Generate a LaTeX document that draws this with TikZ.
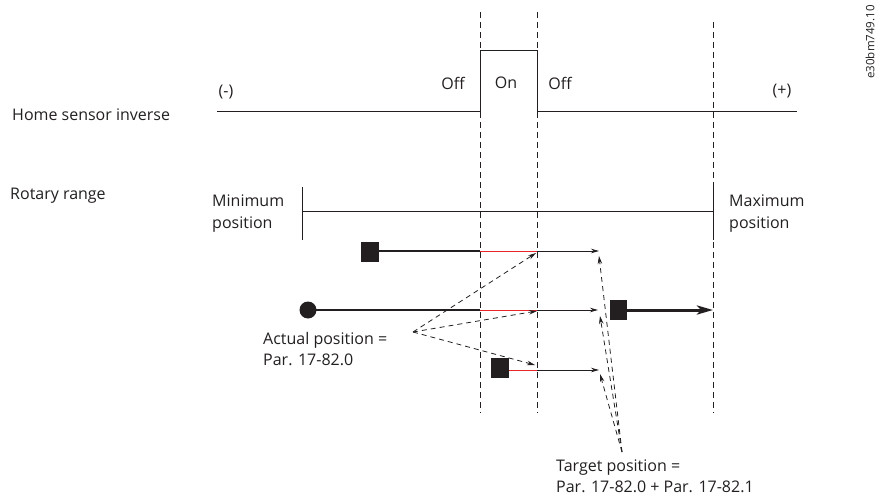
\documentclass[tikz,border=0pt]{standalone}
\usepackage{fontspec}
\setmainfont{Open Sans}
\usetikzlibrary{arrows.meta}
\definecolor{ink}{HTML}{231F20}
\definecolor{lagred}{HTML}{E8262B}
\begin{document}
\begin{tikzpicture}[x=1pt,y=-1pt,
  lbl/.style={font=\fontsize{16}{21.5}\selectfont, inner sep=0pt, align=left, text=ink},
  codelbl/.style={font=\fontsize{11.5}{14}\selectfont, inner sep=0pt, text=ink, rotate=90},
  guide/.style={draw=ink, line width=0.8pt, dash pattern=on 6pt off 4pt},
  signal/.style={draw=ink, line width=1pt},
  rangeline/.style={draw=ink, line width=1pt},
  heavy/.style={draw=ink, line width=2.8pt},
  lag/.style={draw=lagred, line width=1pt},
  move/.style={draw=ink, line width=0.8pt, -{Stealth[length=8pt,width=4.5pt]}},
  bigmove/.style={draw=ink, line width=3pt, -{Stealth[length=16pt,width=9pt,inset=4pt]}},
  pointer/.style={draw=ink, line width=0.8pt, dash pattern=on 5pt off 4pt, -{Stealth[length=8pt,width=4.5pt]}},
  marker/.style={fill=ink, draw=none, inner sep=0pt, minimum width=18pt, minimum height=20pt},
  origin/.style={circle, fill=ink, draw=none, inner sep=0pt, minimum size=17pt}
]
\useasboundingbox (0,0) rectangle (894,500);

% vertical guide lines
\draw[guide] (480,12) -- (480,413);
\draw[guide] (537,12) -- (537,413);
\draw[guide] (713,22) -- (713,413);

% home sensor signal
\coordinate (sigL) at (217,112);
\coordinate (riseLo) at (480,112);
\coordinate (riseHi) at (480,51);
\coordinate (fallHi) at (537,51);
\coordinate (fallLo) at (537,112);
\coordinate (sigR) at (797,112);
\draw[signal] (sigL) -- (riseLo) -- (riseHi) -- (fallHi) -- (fallLo) -- (sigR);

% rotary range
\coordinate (minTop) at (302,187);
\coordinate (minBot) at (302,240);
\coordinate (maxTop) at (713,187);
\coordinate (maxBot) at (713,240);
\coordinate (minMid) at (302,211);
\coordinate (maxMid) at (713,211);
\draw[rangeline] (minTop) -- (minBot);
\draw[rangeline] (maxTop) -- (maxBot);
\draw[rangeline] (minMid) -- (maxMid);

% labels
\node[lbl, anchor=west] (home) at (12,115) {Home sensor inverse};
\node[lbl, anchor=west] (rot) at (10,196) {Rotary range};
\node[lbl] (neg) at (226,92) {(-)};
\node[lbl] (off1) at (453,83) {Off};
\node[lbl] (on) at (506,83) {On};
\node[lbl] (off2) at (560,83) {Off};
\node[lbl] (pos) at (782,91) {(+)};
\node[lbl, anchor=west] (minlbl) at (212,213.5) {Minimum\\position};
\node[lbl, anchor=west] (maxlbl) at (729,213.5) {Maximum\\position};
\node[codelbl] (code) at (870,42) {e30bm749.10};

% row 1
\node[marker] (s1) at (370,252) {};
\coordinate (r1a) at (480,251);
\coordinate (r1b) at (537,251);
\coordinate (r1c) at (599,251);
\draw[heavy] (s1.east |- r1a) -- (r1a);
\draw[lag] (r1a) -- (r1b);
\draw[move] (r1b) -- (r1c);

% row 2
\node[origin] (c2) at (308,310) {};
\coordinate (r2a) at (480,310);
\coordinate (r2b) at (537,310);
\coordinate (r2c) at (598,310);
\node[marker, minimum width=17pt] (s2) at (618.5,310) {};
\coordinate (r2end) at (713,310);
\draw[heavy] (c2.center) -- (r2a);
\draw[lag] (r2a) -- (r2b);
\draw[move] (r2b) -- (r2c);
\draw[bigmove] (s2.east) -- (r2end);

% row 3
\node[marker] (s3) at (500,368) {};
\coordinate (r3b) at (537,370);
\coordinate (r3c) at (599,370);
\draw[lag] (s3.east |- r3b) -- (r3b);
\draw[move] (r3b) -- (r3c);

% actual position pointers
\node[lbl, anchor=west] (actual) at (263,349) {Actual position =\\Par. 17-82.0};
\coordinate (act) at (413,332);
\coordinate (a1) at (536,253);
\coordinate (a2) at (537,311);
\coordinate (a3) at (535,365);
\draw[pointer] (act) -- (a1);
\draw[pointer] (act) -- (a2);
\draw[pointer] (act) -- (a3);

% target position pointers
\node[lbl, anchor=west] (target) at (556,476) {Target position =\\Par. 17-82.0 + Par. 17-82.1};
\coordinate (tgt) at (622,452);
\coordinate (t1) at (599,256);
\coordinate (t2) at (600,316);
\coordinate (t3) at (600,374);
\draw[pointer] (tgt) -- (t1);
\draw[pointer] (tgt) -- (t2);
\draw[pointer] (tgt) -- (t3);
\end{tikzpicture}
\end{document}
